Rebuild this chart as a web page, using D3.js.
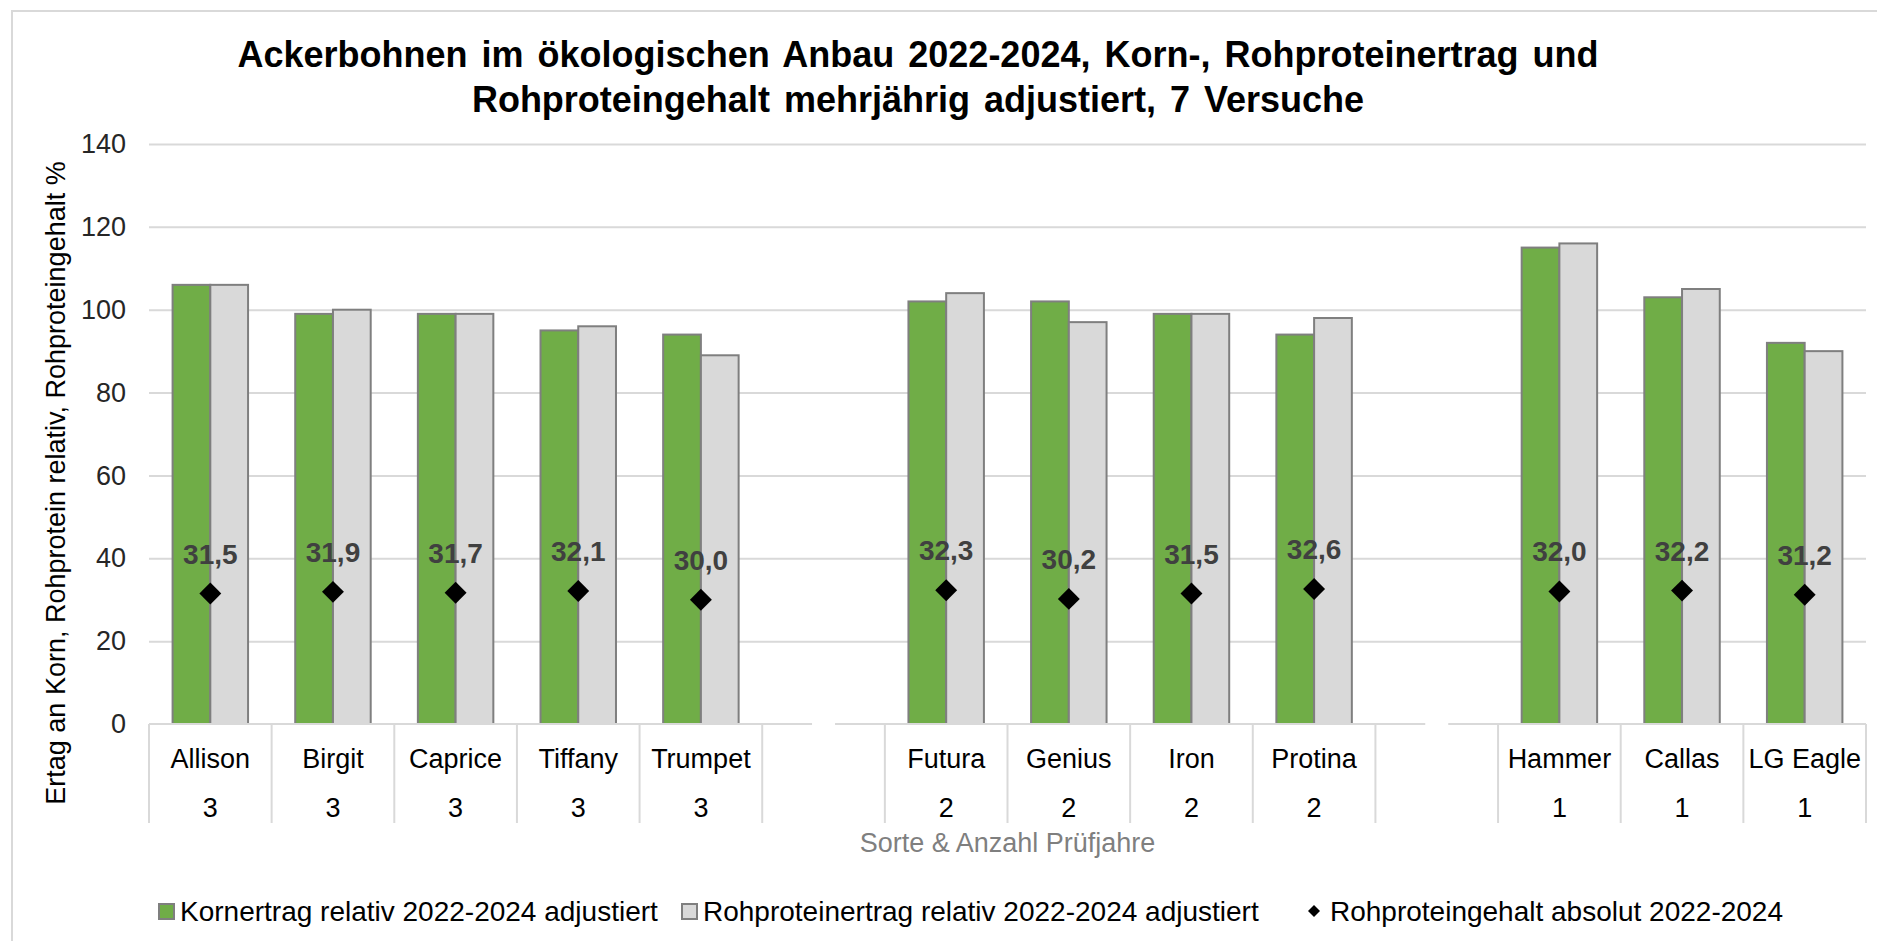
<!DOCTYPE html>
<html>
<head>
<meta charset="utf-8">
<script src="https://cdn.jsdelivr.net/npm/d3@7"></script>
<style>
  body { margin: 0; background: #fff; }
  svg { display: block; font-family: "Liberation Sans", Arial, sans-serif; }
</style>
</head>
<body>
<div id="chart"></div>
<script>
// Sorten (leere Einträge = Lücke zwischen den Gruppen)
const sorten = ["Allison", "Birgit", "Caprice", "Tiffany", "Trumpet", "", "Futura", "Genius", "Iron", "Protina", "", "Hammer", "Callas", "LG Eagle"];
const pruefjahre = [3, 3, 3, 3, 3, null, 2, 2, 2, 2, null, 1, 1, 1];
const kornertrag = [106, 99, 99, 95, 94, null, 102, 102, 99, 94, null, 115, 103, 92];
const rpErtrag = [106, 100, 99, 96, 89, null, 104, 97, 99, 98, null, 116, 105, 90];
const rpGehalt = [31.5, 31.9, 31.7, 32.1, 30.0, null, 32.3, 30.2, 31.5, 32.6, null, 32.0, 32.2, 31.2];
const yTicks = [0, 20, 40, 60, 80, 100, 120, 140];
const serien = ["Kornertrag relativ 2022-2024 adjustiert", "Rohproteinertrag relativ 2022-2024 adjustiert", "Rohproteingehalt absolut 2022-2024"];
const titel = ["Ackerbohnen im ökologischen Anbau 2022-2024, Korn-, Rohproteinertrag und", "Rohproteingehalt mehrjährig adjustiert, 7 Versuche"];

const width = 1877, height = 941;
const margin = { top: 144, right: 11, bottom: 217, left: 149 };
const farben = ["#70ad47", "#d9d9d9"];

const svg = d3.select("#chart").append("svg")
  .attr("width", width)
  .attr("height", height);

// Rahmen
svg.append("rect")
  .attr("x", 12).attr("y", 11)
  .attr("width", width).attr("height", height)
  .attr("fill", "none").attr("stroke", "#d9d9d9").attr("stroke-width", 2);

const x = d3.scaleBand()
  .domain(d3.range(sorten.length))
  .range([margin.left, width - margin.right]);

const xSub = d3.scaleBand()
  .domain([0, 1])
  .range([0, x.bandwidth()])
  .paddingOuter(0.625);

const y = d3.scaleLinear()
  .domain([0, 140])
  .range([height - margin.bottom, margin.top]);

// Gitterlinien
svg.append("g")
  .attr("transform", `translate(${margin.left},0)`)
  .call(d3.axisLeft(y).tickValues(yTicks.filter(d => d > 0)).tickSize(-(width - margin.left - margin.right)).tickFormat(""))
  .call(g => g.select(".domain").remove())
  .call(g => g.selectAll("line").attr("stroke", "#d9d9d9").attr("stroke-width", 2));

// y-Achse Beschriftung
svg.append("g")
  .attr("transform", `translate(${margin.left},0)`)
  .call(d3.axisLeft(y).tickValues(yTicks).tickSize(0).tickPadding(23))
  .call(g => g.select(".domain").remove())
  .call(g => g.selectAll("text").attr("font-size", 27).attr("fill", "#262626").attr("font-family", "Liberation Sans, Arial, sans-serif"));

// Balken
const balken = [kornertrag, rpErtrag];
balken.forEach((werte, s) => {
  svg.append("g")
    .selectAll("rect")
    .data(werte.map((v, i) => ({ v, i })).filter(d => d.v != null))
    .join("rect")
    .attr("x", d => x(d.i) + xSub(s))
    .attr("y", d => y(d.v))
    .attr("width", xSub.bandwidth())
    .attr("height", d => y(0) - y(d.v))
    .attr("fill", farben[s])
    .attr("stroke", "#7f7f7f")
    .attr("stroke-width", 2);
});

// x-Achse (mit Lücken in der Mitte der leeren Kategorien)
const y0 = y(0);
const luecken = sorten.map((s, i) => s === "" ? x(i) + x.bandwidth() / 2 : null).filter(d => d != null);
let start = margin.left;
const segmente = [];
luecken.forEach(m => { segmente.push([start, m - 11.5]); start = m + 11.5; });
segmente.push([start, width - margin.right]);
svg.append("g")
  .selectAll("line")
  .data(segmente)
  .join("line")
  .attr("x1", d => d[0]).attr("x2", d => d[1])
  .attr("y1", y0).attr("y2", y0)
  .attr("stroke", "#d9d9d9").attr("stroke-width", 2);

// Trennlinien der Kategorien
svg.append("g")
  .selectAll("line")
  .data(d3.range(sorten.length + 1))
  .join("line")
  .attr("x1", i => margin.left + i * x.step())
  .attr("x2", i => margin.left + i * x.step())
  .attr("y1", y0).attr("y2", y0 + 99)
  .attr("stroke", "#d9d9d9").attr("stroke-width", 2);

// Kategorien
const kat = svg.append("g").attr("font-size", 27).attr("text-anchor", "middle").attr("fill", "#000");
kat.selectAll("text.sorte")
  .data(sorten)
  .join("text")
  .attr("class", "sorte")
  .attr("x", (d, i) => x(i) + x.bandwidth() / 2)
  .attr("y", y0 + 44)
  .text(d => d);
kat.selectAll("text.jahre")
  .data(pruefjahre)
  .join("text")
  .attr("class", "jahre")
  .attr("x", (d, i) => x(i) + x.bandwidth() / 2)
  .attr("y", y0 + 93)
  .text(d => d == null ? "" : d);

// Achsentitel
svg.append("text")
  .attr("x", (margin.left + width - margin.right) / 2)
  .attr("y", 852)
  .attr("text-anchor", "middle")
  .attr("font-size", 27)
  .attr("fill", "#7f7f7f")
  .text("Sorte & Anzahl Prüfjahre");

svg.append("text")
  .attr("transform", "translate(65,483) rotate(-90)")
  .attr("text-anchor", "middle")
  .attr("font-size", 27)
  .attr("fill", "#000")
  .text("Ertag an Korn, Rohprotein relativ, Rohproteingehalt %");

// Rohproteingehalt: Rauten und Werte
const gehalt = rpGehalt.map((v, i) => ({ v, i })).filter(d => d.v != null);
const raute = d3.symbol(d3.symbolSquare, 240);
svg.append("g")
  .selectAll("path")
  .data(gehalt)
  .join("path")
  .attr("d", raute)
  .attr("transform", d => `translate(${x(d.i) + x.bandwidth() / 2},${y(d.v)}) rotate(45)`)
  .attr("fill", "#000");

svg.append("g")
  .selectAll("text")
  .data(gehalt)
  .join("text")
  .attr("x", d => x(d.i) + x.bandwidth() / 2)
  .attr("y", d => y(d.v) - 30)
  .attr("text-anchor", "middle")
  .attr("font-size", 28)
  .attr("font-weight", "bold")
  .attr("fill", "#404040")
  .text(d => d3.format(".1f")(d.v).replace(".", ","));

// Titel
svg.append("g")
  .selectAll("text")
  .data(titel)
  .join("text")
  .attr("x", 918)
  .attr("y", (d, i) => 67 + i * 45)
  .attr("text-anchor", "middle")
  .attr("font-size", 36)
  .attr("font-weight", "bold")
  .attr("word-spacing", 4)
  .text(d => d);

// Legende
const legende = svg.append("g").attr("font-size", 28);
const legX = [159, 682, 1314];
const textX = [180, 703, 1330];
[0, 1].forEach(s => {
  legende.append("rect")
    .attr("x", legX[s]).attr("y", 904)
    .attr("width", 15).attr("height", 15)
    .attr("fill", farben[s]).attr("stroke", "#7f7f7f").attr("stroke-width", 2);
});
legende.append("path")
  .attr("d", d3.symbol(d3.symbolSquare, 72))
  .attr("transform", `translate(${legX[2]},911) rotate(45)`)
  .attr("fill", "#000");
legende.selectAll("text")
  .data(serien)
  .join("text")
  .attr("x", (d, i) => textX[i])
  .attr("y", 921)
  .text(d => d);
</script>
</body>
</html>
